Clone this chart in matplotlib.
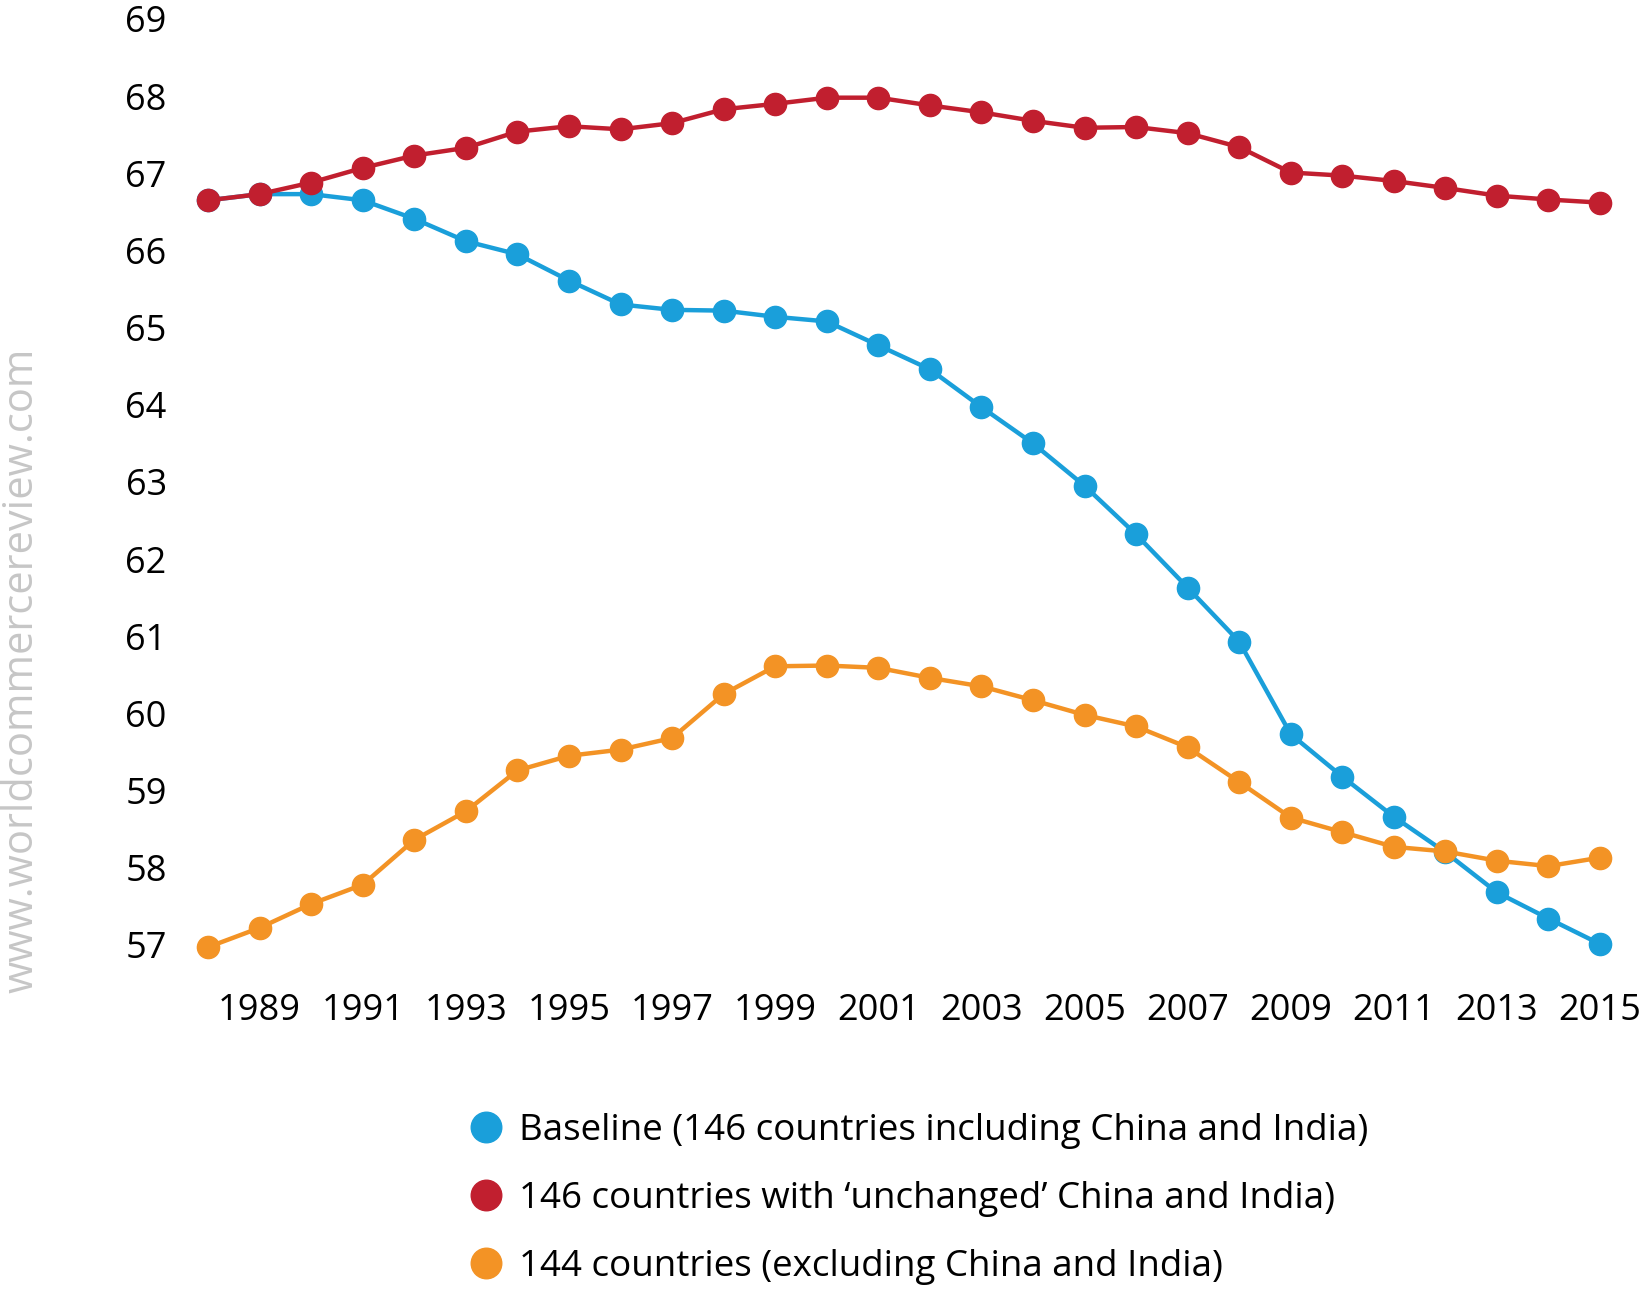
import matplotlib.pyplot as plt
from matplotlib.lines import Line2D

# Data
years = list(range(1988, 2016))
baseline = [66.65, 66.73, 66.73, 66.65, 66.41, 66.12, 65.95, 65.61, 65.30, 65.23,
            65.22, 65.14, 65.08, 64.77, 64.46, 63.97, 63.50, 62.95, 62.32, 61.63,
            60.93, 59.73, 59.18, 58.66, 58.20, 57.68, 57.34, 57.01]
unchanged = [66.65, 66.73, 66.88, 67.07, 67.23, 67.33, 67.54, 67.61, 67.57, 67.65,
             67.83, 67.90, 67.98, 67.98, 67.88, 67.79, 67.68, 67.59, 67.60, 67.52,
             67.34, 67.01, 66.97, 66.90, 66.81, 66.71, 66.66, 66.62]
excluding = [56.97, 57.22, 57.53, 57.78, 58.36, 58.73, 59.26, 59.45, 59.53, 59.68,
             60.25, 60.61, 60.62, 60.59, 60.46, 60.35, 60.17, 59.98, 59.83, 59.56,
             59.11, 58.65, 58.46, 58.27, 58.21, 58.09, 58.02, 58.13]
x_ticks = list(range(1989, 2016, 2))
y_ticks = list(range(57, 70))
labels = ['Baseline (146 countries including China and India)',
          '146 countries with \u2018unchanged\u2019 China and India)',
          '144 countries (excluding China and India)']
colors = ['#1a9fda', '#c11f2f', '#f39325']

plt.rcParams['font.family'] = ['Open Sans', 'DejaVu Sans']

fig = plt.figure(figsize=(16.46, 12.92), dpi=100)
ax = fig.add_axes([0.1139, 0.2508, 0.8707, 0.7345])

for series, c, z in zip([baseline, unchanged, excluding], colors, [2, 3, 4]):
    ax.plot(years, series, color=c, linewidth=3.2, marker='o', markersize=16,
            zorder=z, clip_on=False)

ax.set_xlim(1987.6, 2015.4)
ax.set_ylim(56.7, 69.0)
ax.set_xticks(x_ticks)
ax.set_yticks(y_ticks)
ax.tick_params(axis='both', length=0, labelsize=26, colors='black')
ax.tick_params(axis='y', pad=15)
ax.tick_params(axis='x', pad=18)
for s in ax.spines.values():
    s.set_visible(False)

# Legend
handles = [Line2D([], [], linestyle='none', marker='o', markersize=22,
                  color=c) for c in colors]
fig.legend(handles, labels, loc='upper left', bbox_to_anchor=(0.273, 0.153),
           frameon=False, labelspacing=0.87, handletextpad=0.38,
           borderpad=0, handlelength=1.0,
           prop={'family': ['Open Sans'], 'size': 26.5})

# Watermark
fig.text(0.013, 0.481, 'www.worldcommercereview.com', rotation=90, color='#c6c6c6',
         fontsize=30, ha='center', va='center')

plt.savefig('out.png', dpi=100)
